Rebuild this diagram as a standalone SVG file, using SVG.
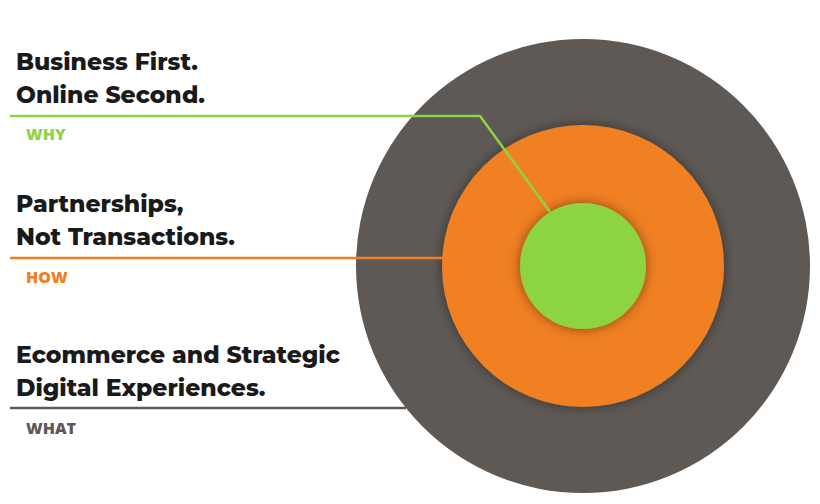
<svg xmlns="http://www.w3.org/2000/svg" width="820" height="504" viewBox="0 0 820 504">
<style>
.h{font-family:"Montserrat","Open Sans","Liberation Sans",sans-serif;font-weight:800;font-size:23.5px;fill:#1a1a1a}
.l{font-family:"Open Sans","Liberation Sans",sans-serif;font-weight:800;font-size:16px}
</style>
<defs><filter id="s" x="-20%" y="-20%" width="140%" height="140%"><feDropShadow dx="0" dy="0" stdDeviation="6" flood-opacity="0.45"/></filter></defs>
<rect width="820" height="504" fill="#fff"/>
<g id="outer"><circle cx="583" cy="266" r="227" fill="#5e5955"/></g>
<g id="middle"><circle cx="583" cy="266" r="141" fill="#f08022" filter="url(#s)"/></g>
<g id="inner"><circle cx="583" cy="266" r="63" fill="#8dd443" filter="url(#s)"/></g>
<g id="connectors" fill="none" stroke-width="2.5">
<polyline points="10,116 480,116 550,212" stroke="#8dd443"/>
<line x1="10" y1="258" x2="443" y2="258" stroke="#f08022"/>
<line x1="10" y1="408" x2="406" y2="408" stroke="#5e5955"/>
</g>
<g id="why"><text class="h" x="16" y="70">Business First.</text><text class="h" x="16" y="103">Online Second.</text><text class="l" x="26" y="140" fill="#8dd443">WHY</text></g>
<g id="how"><text class="h" x="16" y="212">Partnerships,</text><text class="h" x="16" y="245">Not Transactions.</text><text class="l" x="26" y="283" fill="#f08022">HOW</text></g>
<g id="what"><text class="h" x="16" y="363">Ecommerce and Strategic</text><text class="h" x="16" y="396">Digital Experiences.</text><text class="l" x="26" y="434" fill="#5e5955">WHAT</text></g>
</svg>
